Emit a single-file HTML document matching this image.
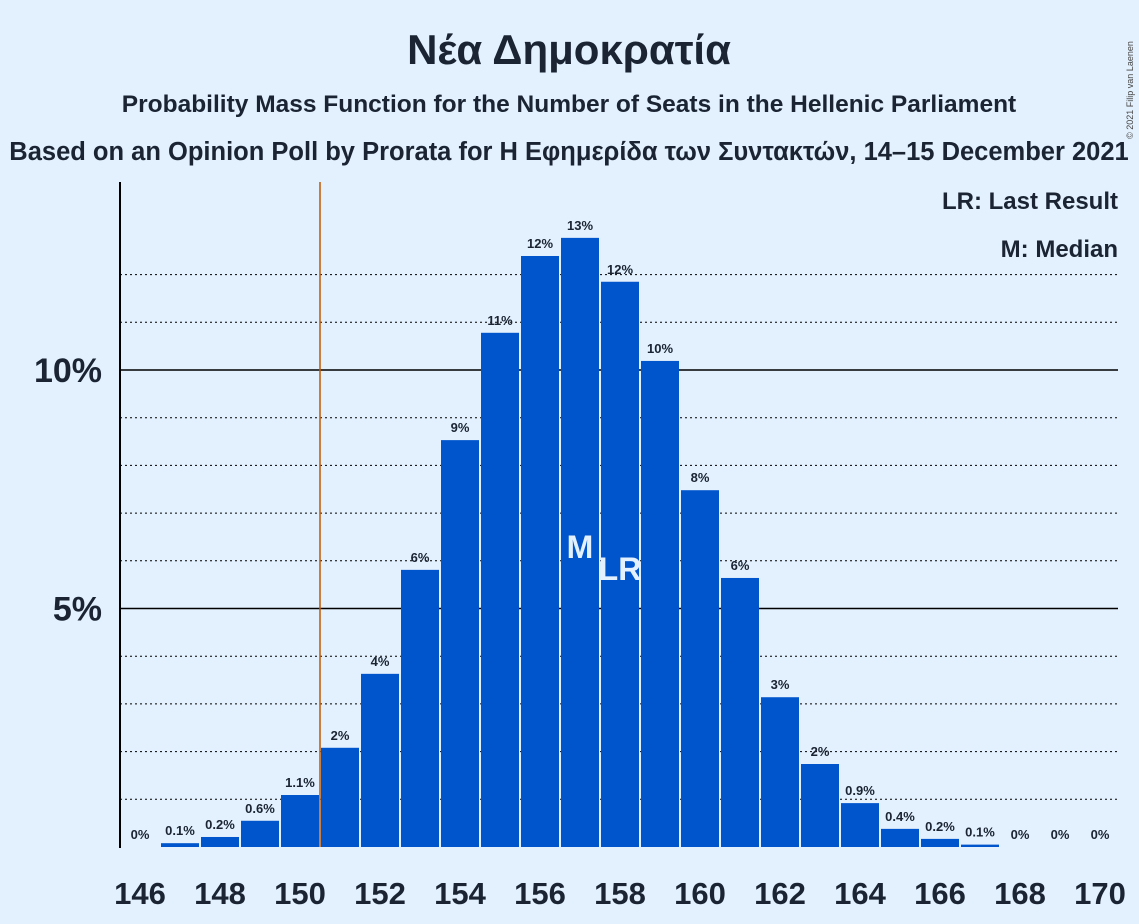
<!DOCTYPE html>
<html><head><meta charset="utf-8"><style>
body{margin:0;background:#e3f0fd;}
svg{display:block;font-family:"Liberation Sans","Noto Sans CJK JP",sans-serif;}
</style></head><body>
<svg id="chart" width="1139" height="924">
<rect width="1139" height="924" fill="#e3f0fd"/>
<text x="569" y="64" text-anchor="middle" font-size="42" font-weight="bold" fill="#1a2433">Νέα Δημοκρατία</text>
<text x="569" y="112" text-anchor="middle" font-size="24.5" font-weight="bold" fill="#1a2433">Probability Mass Function for the Number of Seats in the Hellenic Parliament</text>
<text x="569" y="160" text-anchor="middle" font-size="25.5" font-weight="bold" fill="#1a2433">Based on an Opinion Poll by Prorata for Η Εφημερίδα των Συντακτών, 14–15 December 2021</text>
<text x="1133" y="90" font-size="9" fill="#444" transform="rotate(-90 1133 90)" text-anchor="middle">© 2021 Filip van Laenen</text>
<g id="grid"></g>
<g id="bars"></g>
<g id="labels"></g>
<line x1="120" y1="182" x2="120" y2="848" stroke="#000" stroke-width="2"/>
<text x="1118" y="209" text-anchor="end" font-size="24" font-weight="bold" fill="#1a2433">LR: Last Result</text>
<text x="1118" y="257" text-anchor="end" font-size="24" font-weight="bold" fill="#1a2433">M: Median</text>
</svg>
<script>
const seats=[146,147,148,149,150,151,152,153,154,155,156,157,158,159,160,161,162,163,164,165,166,167,168,169,170];
const probs=[0,0.08,0.21,0.55,1.09,2.08,3.63,5.81,8.53,10.78,12.39,12.77,11.85,10.19,7.48,5.64,3.14,1.74,0.92,0.38,0.17,0.05,0,0,0];
const valueLabels=["0%","0.1%","0.2%","0.6%","1.1%","2%","4%","6%","9%","11%","12%","13%","12%","10%","8%","6%","3%","2%","0.9%","0.4%","0.2%","0.1%","0%","0%","0%"];
const yTicks=[5,10];
const xTicks=[146,148,150,152,154,156,158,160,162,164,166,168,170];
const lastResult=150.5, median=157, lrSeat=158;
const NS="http://www.w3.org/2000/svg";
const y=v=>847-v*47.7;
const x=s=>140+40*(s-146);
function mk(tag,attrs,parent,txt){const e=document.createElementNS(NS,tag);for(const k in attrs)e.setAttribute(k,attrs[k]);if(txt!==undefined)e.textContent=txt;document.getElementById(parent).appendChild(e);return e;}
for(let p=1;p<=12;p++){
 const solid=yTicks.includes(p);
 const l=mk('line',{x1:120,x2:1118,y1:y(p),y2:y(p),stroke:'#000','stroke-width':solid?1.5:1,'stroke-dasharray':solid?'':'2,3'},'grid');
 
 
}
yTicks.forEach(t=>{const e=mk('text',{x:102,y:y(t)+12,'text-anchor':'end','font-size':34,'font-weight':'bold',fill:'#1a2433'},'grid',t+'%');
 
 });
xTicks.forEach(t=>{const e=mk('text',{x:x(t),y:904,'text-anchor':'middle','font-size':31,'font-weight':'bold',fill:'#1a2433'},'labels',t);
 
 });
seats.forEach((s,i)=>{
 if(probs[i]>0){const r=mk('rect',{x:x(s)-19,y:y(probs[i]),width:38,height:847-y(probs[i]),fill:'#0055cc'},'bars');
  
  }
 const t=mk('text',{x:x(s),y:y(probs[i])-8,'text-anchor':'middle','font-size':13,'font-weight':'bold',fill:'#1a2433'},'labels',valueLabels[i]);
 
 
});
const lr=mk('line',{x1:x(lastResult),x2:x(lastResult),y1:182,y2:847,stroke:'#c05800','stroke-width':1.5},'bars');


const m=mk('text',{x:x(median),y:558,'text-anchor':'middle','font-size':32,'font-weight':'bold',fill:'#e3f0fd'},'labels','M');


const lrt=mk('text',{x:x(lrSeat),y:580,'text-anchor':'middle','font-size':32,'font-weight':'bold',fill:'#e3f0fd'},'labels','LR');


</script>
</body></html>
